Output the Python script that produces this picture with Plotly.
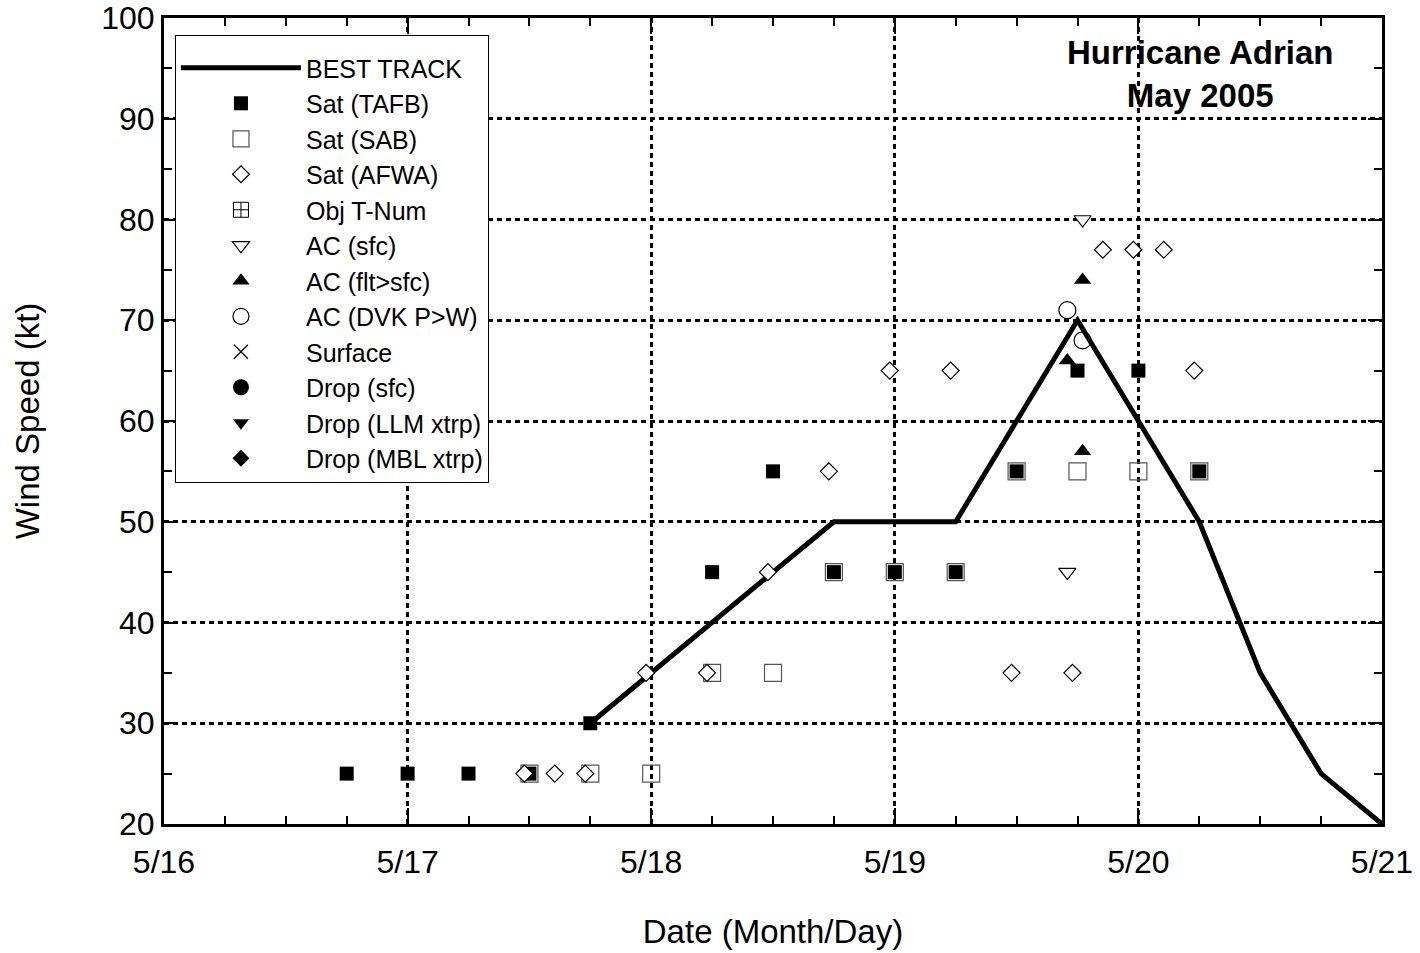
import plotly.graph_objects as go

# Best track
bt_time = ["2005-05-17 18:00", "2005-05-18 00:00", "2005-05-18 06:00", "2005-05-18 12:00",
           "2005-05-18 18:00", "2005-05-19 00:00", "2005-05-19 06:00", "2005-05-19 12:00",
           "2005-05-19 18:00", "2005-05-20 00:00", "2005-05-20 06:00", "2005-05-20 12:00",
           "2005-05-20 18:00", "2005-05-21 00:00"]
bt_wind = [30, 35, 40, 45, 50, 50, 50, 60, 70, 60, 50, 35, 25, 20]

# Sat (TAFB)
tafb_time = ["2005-05-16 18:00", "2005-05-17 00:00", "2005-05-17 06:00", "2005-05-17 12:00",
             "2005-05-17 18:00", "2005-05-18 06:00", "2005-05-18 12:00", "2005-05-18 18:00",
             "2005-05-19 00:00", "2005-05-19 06:00", "2005-05-19 12:00", "2005-05-19 18:00",
             "2005-05-20 00:00", "2005-05-20 06:00"]
tafb_wind = [25, 25, 25, 25, 30, 45, 55, 45, 45, 45, 55, 65, 65, 55]

# Sat (SAB)
sab_time = ["2005-05-17 12:00", "2005-05-17 18:00", "2005-05-18 00:00", "2005-05-18 06:00",
            "2005-05-18 12:00", "2005-05-18 18:00", "2005-05-19 00:00", "2005-05-19 06:00",
            "2005-05-19 12:00", "2005-05-19 18:00", "2005-05-20 00:00", "2005-05-20 06:00"]
sab_wind = [25, 25, 25, 35, 35, 45, 45, 45, 55, 55, 55, 55]

# Sat (AFWA)
afwa_time = ["2005-05-17 11:30", "2005-05-17 14:30", "2005-05-17 17:30", "2005-05-17 23:30",
             "2005-05-18 05:30", "2005-05-18 11:30", "2005-05-18 17:30", "2005-05-18 23:30",
             "2005-05-19 05:30", "2005-05-19 11:30", "2005-05-19 17:30", "2005-05-19 20:30",
             "2005-05-19 23:30", "2005-05-20 02:30", "2005-05-20 05:30"]
afwa_wind = [25, 25, 25, 35, 35, 45, 55, 65, 65, 35, 35, 77, 77, 77, 65]

# AC (sfc)
acsfc_time = ["2005-05-19 17:00", "2005-05-19 18:30"]
acsfc_wind = [45, 80]

# AC (flt>sfc)
acflt_time = ["2005-05-19 17:00", "2005-05-19 18:30", "2005-05-19 18:30"]
acflt_wind = [66, 74, 57]

# AC (DVK P>W)
dvk_time = ["2005-05-19 17:00", "2005-05-19 18:30"]
dvk_wind = [71, 68]

x_ticks = ["2005-05-16", "2005-05-17", "2005-05-18", "2005-05-19", "2005-05-20", "2005-05-21"]
x_ticklabels = ["5/16", "5/17", "5/18", "5/19", "5/20", "5/21"]

FONT = "Liberation Sans, Arial, sans-serif"

fig = go.Figure()
fig.add_trace(go.Scatter(x=bt_time, y=bt_wind, mode="lines", name="BEST TRACK",
                         line=dict(color="black", width=5)))
fig.add_trace(go.Scatter(x=tafb_time, y=tafb_wind, mode="markers", name="Sat (TAFB)",
                         marker=dict(symbol="square", size=14, color="black",
                                     line=dict(width=0))))
fig.add_trace(go.Scatter(x=sab_time, y=sab_wind, mode="markers", name="Sat (SAB)",
                         marker=dict(symbol="square-open", size=17, color="#555555",
                                     line=dict(width=1.2))))
fig.add_trace(go.Scatter(x=afwa_time, y=afwa_wind, mode="markers", name="Sat (AFWA)",
                         marker=dict(symbol="diamond", size=13, color="white",
                                     line=dict(width=1.2, color="black"))))
fig.add_trace(go.Scatter(x=[None], y=[None], mode="markers", name="Obj T-Num",
                         marker=dict(symbol="square-cross-open", size=15, color="black",
                                     line=dict(width=1))))
fig.add_trace(go.Scatter(x=acsfc_time, y=acsfc_wind, mode="markers", name="AC (sfc)",
                         marker=dict(symbol="triangle-down", size=15, color="white",
                                     line=dict(width=1.2, color="black"))))
fig.add_trace(go.Scatter(x=acflt_time, y=acflt_wind, mode="markers", name="AC (flt>sfc)",
                         marker=dict(symbol="triangle-up", size=15, color="black",
                                     line=dict(width=0))))
fig.add_trace(go.Scatter(x=dvk_time, y=dvk_wind, mode="markers", name="AC (DVK P>W)",
                         marker=dict(symbol="circle-open", size=17, color="black",
                                     line=dict(width=1.2))))
fig.add_trace(go.Scatter(x=[None], y=[None], mode="markers", name="Surface",
                         marker=dict(symbol="x-thin-open", size=14, color="black",
                                     line=dict(width=1.2))))
fig.add_trace(go.Scatter(x=[None], y=[None], mode="markers", name="Drop (sfc)",
                         marker=dict(symbol="circle", size=16, color="black")))
fig.add_trace(go.Scatter(x=[None], y=[None], mode="markers", name="Drop (LLM xtrp)",
                         marker=dict(symbol="triangle-down", size=14, color="black")))
fig.add_trace(go.Scatter(x=[None], y=[None], mode="markers", name="Drop (MBL xtrp)",
                         marker=dict(symbol="diamond", size=13, color="black")))

fig.add_annotation(text="<b>Hurricane Adrian<br>May 2005</b>", xref="paper", yref="paper",
                   x=0.851, y=0.93, xanchor="center", yanchor="middle",
                   showarrow=False, align="center",
                   font=dict(family=FONT, size=33, color="black"))

axis_common = dict(showline=True, linecolor="black", linewidth=3, mirror="allticks",
                   ticks="inside", tickcolor="black", tickwidth=2, automargin=False,
                   showgrid=True, gridcolor="black", gridwidth=2.5, griddash="5px,4px",
                   zeroline=False, tickfont=dict(family=FONT, size=32, color="black"))

fig.update_xaxes(type="date", range=["2005-05-16", "2005-05-21"],
                 tickmode="array", tickvals=x_ticks, ticktext=x_ticklabels, ticklen=16,
                 ticklabelstandoff=8,
                 minor=dict(dtick=6 * 3600 * 1000, ticks="inside", ticklen=8, tickwidth=2,
                            tickcolor="black", showgrid=False),
                 title=dict(text="Date (Month/Day)", font=dict(family=FONT, size=33, color="black"),
                            standoff=41),
                 **axis_common)
fig.update_yaxes(range=[20, 100], dtick=10, ticklen=14,
                 minor=dict(dtick=5, ticks="inside", ticklen=8, tickwidth=2,
                            tickcolor="black", showgrid=False),
                 title=dict(text="Wind Speed (kt)", font=dict(family=FONT, size=33, color="black"),
                            standoff=52),
                 **axis_common)

fig.update_layout(
    width=1420, height=953,
    margin=dict(l=164, r=38, t=18, b=129),
    paper_bgcolor="white", plot_bgcolor="white",
    font=dict(family=FONT, color="black"),
    showlegend=True,
    legend=dict(x=0.009, y=0.979, xanchor="left", yanchor="top",
                bgcolor="white", bordercolor="black", borderwidth=1,
                font=dict(family=FONT, size=25, color="black"),
                title=dict(text="&nbsp;", font=dict(family=FONT, size=7)),
                itemwidth=120, entrywidth=198, entrywidthmode="pixels",
                tracegroupgap=0),
)

fig.write_html("out.html", config={"displayModeBar": False},
               post_script="document.body.style.margin='0';")
